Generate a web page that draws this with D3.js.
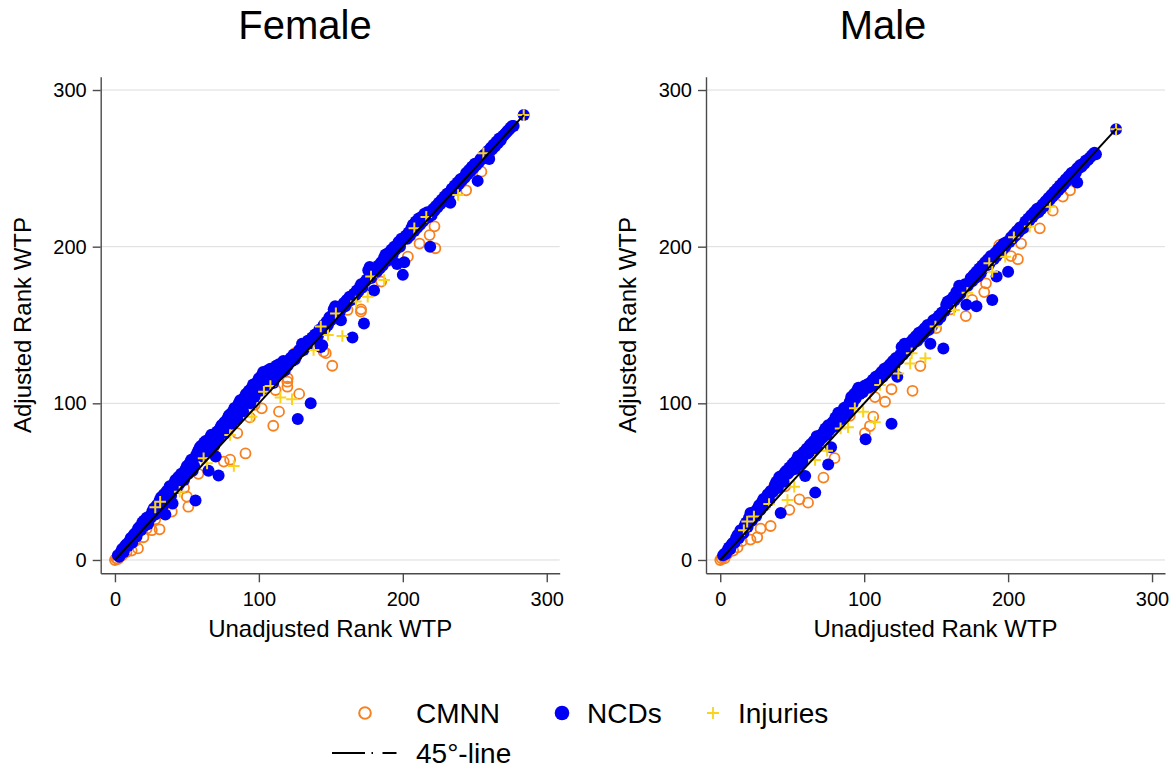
<!DOCTYPE html>
<html>
<head>
<meta charset="utf-8">
<script src="https://cdn.jsdelivr.net/npm/d3@7"></script>
<style>
  body { margin: 0; background: #fff; }
  svg { display: block; font-family: "Liberation Sans", Arial, sans-serif; }
</style>
</head>
<body>
<div id="chart"></div>
<script>
const panelTitles = ["Female", "Male"];
const tickValues = [0, 100, 200, 300];
const legendLabels = ["CMNN", "NCDs", "Injuries", "45°-line"];

// [unadjusted rank, adjusted rank]
const femaleCMNN = [
  [0,0],[1,1],[2,0.5],[3,2],[5,3],[8,5],[11.6,6],[16,7.4],[14,12],[19.8,14.5],[22,20],[25.6,19],[28,26],[31,19.6],
  [36,41],[39.5,30.9],[42,50],[44,47],[48,46],[50,40.4],[51,34],[58,55],[64,68],[68,70],[75.6,62.8],[80,64],
  [85,81],[90.7,68],[93.7,91],[97,99],[102,96.8],[105,110],[110,85.7],[111.6,108.5],[114,94.7],[119.8,110.6],
  [119.8,113.8],[120,116],[125,132],[128,106],[133,137],[145,133],[146.5,132],[151,124],[161.6,159.6],
  [170.9,158.5],[171,160],[180,182],[185,177.7],[190,191],[198,200],[203.5,193.6],[211.6,202],[218.6,207.4],
  [222,213],[222.6,199],[230,233],[240,240.4],[244,236],[248,249],[254.6,247.9],[260,258],[262,264]
];
const femaleNCDs = [
  [2,3],[4,5],[5,7],[7,9],[8,10],[10,12],[11,14],[13,16],[14,17],[16,20],[17,21],[19,24],[20,25],[22,27],
  [24,28],[26,31],[27,33],[29,35],[31,38],[32,40],[34,42],[35,29],[36,44],[38,47],[40,36],[41,49],[42,51],
  [44,53],[46,55],[47,52],[49,58],[50,60],[52,62],[53,64],[56,38],[56,66],[57,68],[58,70],[59,72],[60,73],
  [62,75],[63,76],[64,74],[65,57],[66,78],[67,80],[68,77],[70,66],[71,82],[72,54],[73,84],[74,86],[75,85],
  [76,88],[78,90],[79,92],[80,93],[82,95],[83,97],[84,96],[86,100],[87,102],[88,99],[90,104],[91,106],
  [92,103],[93,108],[95,110],[96,112],[98,111],[99,114],[100,116],[102,118],[103,120],[105,119],[106,121],
  [108,122],[109,121],[111,118],[112,124],[114,125],[115,123],[117,127],[119,126],[120,124],[122,129],
  [124,131],[126,130],[127,90],[128,134],[130,138],[132,136],[134,140],[136,100],[137,142],[139,144],
  [141,143],[143,136],[144,137],[145,150],[147,152],[149,155],[150,153],[152,160],[153,162],[155,161],
  [157,153],[159,164],[161,166],[163,168],[165,142],[166,170],[168,172],[170,174],[171,176],[173,151],
  [174,178],[176,185],[177,187],[179,183],[180,172],[181,186],[183,188],[185,190],[187,193],[188,195],
  [190,196],[192,198],[194,200],[196,189],[197,203],[199,205],[200,182],[201,190],[202,207],[204,209],
  [206,212],[207,214],[209,216],[211,218],[213,219],[215,221],[217,222],[219,200],[220,220],[221,224],
  [223,226],[225,228],[227,230],[229,232],[231,234],[233,228],[234,237],[236,239],[238,241],[240,243],
  [242,244],[244,247],[246,249],[248,251],[250,253],[252,242],[254,256],[256,258],[257,259],[259,261],
  [260,256],[261,263],[263,265],[265,267],[267,269],[269,270],[270,271],[272,273],[274,275],[276,277],
  [284,284],
  // points lying close to the diagonal
  [3,2],[6,5],[9,9],[12,11],[15,15],[18,19],[21,22],[23,23],[25,27],[28,29],[30,31],[33,34],[37,39],[39,41],
  [43,46],[45,49],[48,51],[51,55],[54,57],[55,60],[61,66],[64,69],[69,73],[72,77],[77,81],[81,87],[85,90],
  [89,95],[94,100],[97,104],[101,108],[104,110],[107,114],[110,113],[113,118],[116,120],[118,121],[121,126],
  [123,127],[125,128],[129,133],[131,134],[133,137],[135,138],[138,140],[140,141],[142,147],[146,148],
  [148,150],[151,156],[154,157],[156,158],[158,161],[160,162],[162,165],[164,166],[167,169],[169,171],
  [172,174],[175,179],[178,180],[182,184],[184,186],[186,188],[189,191],[191,193],[193,195],[195,198],
  [198,200],[203,205],[205,207],[208,210],[210,212],[212,214],[214,216],[216,218],[218,219],[222,223],
  [224,225],[226,227],[228,229],[230,231],[232,233],[235,236],[237,238],[239,240],[241,242],[243,244],
  [245,246],[247,248],[249,250],[251,252],[253,254],[255,256],[258,258],[262,262],[264,264],[266,266],
  [268,268],[271,272],[273,274],[275,276],[277,277]
];
const femaleInjuries = [
  [28,33.6],[31.4,37.2],[45,43.6],[61.6,64.9],[64,61.7],[80,79.8],[82.6,60],[95,91.5],[103.5,107.4],
  [108,111],[115,103.8],[123,102.6],[138,134],[143,149],[148,143.6],[153.5,157.4],[158,143],[167.4,165],
  [175.6,168],[177.9,180.9],[187,178.7],[208,211.7],[216.3,219],[238.4,233],[256,259.6],[284,284]
];

const maleCMNN = [
  [0,0],[1,1],[2,2],[3,1],[5,4],[9,6],[12,8],[15,12],[21,13],[25.7,14.5],[28,20],[35,21.7],[37.4,46.8],
  [45,47],[48,32],[55,38.7],[61,36.6],[71.7,52.6],[79.4,65],[90,92],[100.5,81],[104,85.5],[106.3,91.5],
  [107.5,104],[114.5,101],[119,109],[133.6,108],[139,123.8],[150,148],[160,160],[170.6,155.7],[175,166],
  [183.4,171],[184.6,176.6],[193.9,201],[196,198],[202,194],[206.8,192],[209,202],[222,211.7],[231,223],
  [238,232],[243,236],[250,251]
];
const maleNCDs = [
  [3,4],[5,6],[6,8],[8,10],[9,11],[11,14],[12,16],[14,19],[15,18],[17,22],[18,24],[20,27],[21,30],[23,29],
  [24,31],[26,33],[27,35],[29,37],[30,39],[32,40],[33,42],[35,44],[36,43],[38,48],[39,50],[41,53],[42,30],
  [43,54],[45,56],[46,57],[48,59],[50,61],[51,62],[53,64],[54,66],[56,67],[58,69],[59,53.6],[60,71],[62,73],
  [63,74],[65,76],[66,43],[67,79],[68,77],[70,80],[72,82],[73,84],[75,61],[75,86],[77,72],[78,88],[80,91],
  [82,94],[83,92],[85,95],[86,97],[88,98],[90,101],[91,104],[93,106],[95,108],[96,110],[98,109],[100,111],
  [101,77],[102,112],[104,113],[106,115],[108,117],[110,118],[112,120],[114,122],[116,123],[118,125],
  [119,87],[120,127],[122,129],[123,117],[125,131],[126,136],[128,138],[130,137],[132,139],[134,141],
  [136,143],[138,145],[140,146],[142,148],[144,150],[146,138],[148,153],[150,154],[152,156],[154,158],
  [155,135],[157,163],[158,165],[160,166],[162,168],[164,171],[166,175],[168,174],[170,176],[171,163],
  [174,180],[176,182],[178,184],[178,162],[180,186],[182,188],[184,190],[186,192],[188,194],[189,166],
  [191,196],[193,198],[192,181],[195,200],[197,202],[199,203],[200,184],[202,206],[204,208],[206,210],
  [208,212],[210,213],[212,216],[214,218],[216,220],[218,222],[220,224],[222,225],[224,227],[226,229],
  [228,231],[230,233],[232,235],[234,237],[236,239],[238,241],[240,243],[242,245],[244,247],[246,248],
  [248,250],[248,241],[250,252],[252,253],[254,255],[256,256],[257,257],[259,259],[275,275],
  // points lying close to the diagonal
  [2,3],[4,4],[7,7],[10,11],[13,14],[16,17],[19,21],[22,25],[25,28],[28,32],[31,35],[34,38],[37,44],[40,46],
  [44,50],[47,55],[49,57],[52,58],[55,61],[57,63],[61,68],[64,70],[67,72],[69,76],[71,78],[74,80],[76,83],
  [79,85],[81,88],[84,90],[87,93],[89,95],[92,100],[94,103],[97,106],[99,107],[103,110],[105,111],[107,113],
  [109,116],[111,116],[113,117],[115,119],[117,121],[119,123],[121,124],[124,128],[127,131],[129,133],
  [131,135],[133,137],[135,139],[137,140],[139,142],[141,144],[143,146],[145,147],[147,149],[149,152],
  [151,153],[153,155],[156,159],[159,162],[161,164],[163,166],[165,168],[167,170],[169,173],[172,175],
  [173,177],[175,178],[177,180],[179,181],[181,183],[183,186],[185,188],[187,189],[190,192],[192,194],
  [194,196],[196,198],[198,200],[201,203],[203,205],[205,207],[207,209],[209,211],[211,212],[213,215],
  [215,217],[217,219],[219,221],[221,222],[223,224],[225,226],[227,228],[229,230],[231,232],[233,234],
  [235,236],[237,238],[239,240],[241,242],[243,244],[245,246],[247,247],[249,250],[251,251],[253,253],
  [255,255],[258,258],[260,260],[261,259]
];
const maleInjuries = [
  [16.4,19],[18.7,24.5],[23.4,27.7],[33.9,35.7],[46.7,38.3],[51.4,46.8],[65.9,63.8],[74.3,69.8],[83.6,84],
  [88.8,84.7],[93.5,96.8],[99.3,94.7],[107.5,88],[111,111.7],[123.8,119],[132,125.5],[133,132],
  [142.5,128.7],[149.5,149],[162.4,159.6],[171.7,170.6],[186.9,189.4],[189,184],[198,193.6],[204,206],
  [215,212.8],[229,225.5],[275,275]
];

const colors = { cmnn: "#f7801f", ncd: "#0000f5", inj: "#f9d31c" };
const width = 1176;
const height = 771;

const svg = d3.select("#chart")
  .append("svg")
  .attr("width", width)
  .attr("height", height);

function plusPath(s) {
  return `M${-s},0H${s}M0,${-s}V${s}`;
}

function drawPanel(left, titleX, title, cmnn, ncds, injuries) {
  const x = d3.scaleLinear().domain([-9.9, 309]).range([left, left + 459]);
  const y = d3.scaleLinear().domain([-8.5, 308.5]).range([573.3, 76.7]);
  const g = svg.append("g");

  // gridlines
  g.selectAll("line.grid")
    .data(tickValues)
    .enter()
    .append("line")
    .attr("class", "grid")
    .attr("x1", left)
    .attr("x2", left + 459)
    .attr("y1", d => y(d))
    .attr("y2", d => y(d))
    .attr("stroke", "#dcdcdc")
    .attr("stroke-width", 1);

  const yAxis = g.append("g")
    .attr("transform", `translate(${left},0)`)
    .call(d3.axisLeft(y).tickValues(tickValues).tickSize(8).tickSizeOuter(0).tickPadding(6));
  const xAxis = g.append("g")
    .attr("transform", `translate(0,${y.range()[0]})`)
    .call(d3.axisBottom(x).tickValues(tickValues).tickSize(9).tickSizeOuter(0).tickPadding(10));

  [yAxis, xAxis].forEach(ax => {
    ax.select(".domain").attr("stroke", "#4a4a4a").attr("stroke-width", 1.4);
    ax.selectAll(".tick line").attr("stroke", "#4a4a4a").attr("stroke-width", 1.4);
    ax.selectAll(".tick text")
      .attr("fill", "#000")
      .style("font-size", "20px")
      .style("font-family", '"Liberation Sans", Arial, sans-serif');
  });

  g.append("text")
    .attr("x", (x.range()[0] + x.range()[1]) / 2)
    .attr("y", 637)
    .attr("text-anchor", "middle")
    .style("font-size", "24px")
    .text("Unadjusted Rank WTP");

  const cy = (y.range()[0] + y.range()[1]) / 2;
  g.append("text")
    .attr("transform", `translate(${left - 70},${cy}) rotate(-90)`)
    .attr("text-anchor", "middle")
    .style("font-size", "24px")
    .text("Adjusted Rank WTP");

  g.append("text")
    .attr("x", titleX)
    .attr("y", 39)
    .attr("text-anchor", "middle")
    .style("font-size", "40px")
    .text(title);

  g.append("g")
    .selectAll("circle")
    .data(cmnn)
    .enter()
    .append("circle")
    .attr("cx", d => x(d[0]))
    .attr("cy", d => y(d[1]))
    .attr("r", 5)
    .attr("fill", "none")
    .attr("stroke", colors.cmnn)
    .attr("stroke-width", 1.8);

  g.append("g")
    .selectAll("circle")
    .data(ncds)
    .enter()
    .append("circle")
    .attr("cx", d => x(d[0]))
    .attr("cy", d => y(d[1]))
    .attr("r", 6)
    .attr("fill", colors.ncd);

  g.append("g")
    .selectAll("path")
    .data(injuries)
    .enter()
    .append("path")
    .attr("transform", d => `translate(${x(d[0])},${y(d[1])})`)
    .attr("d", plusPath(5.8))
    .attr("stroke", colors.inj)
    .attr("stroke-width", 2)
    .attr("fill", "none");

  const maxRank = d3.max(ncds.concat(cmnn, injuries), d => d[0]);
  const line = d3.line().x(d => x(d)).y(d => y(d));
  g.append("path")
    .datum([0, maxRank])
    .attr("d", line)
    .attr("stroke", "#000")
    .attr("stroke-width", 2)
    .attr("fill", "none");
}

drawPanel(100.7, 305, panelTitles[0], femaleCMNN, femaleNCDs, femaleInjuries);
drawPanel(706, 883, panelTitles[1], maleCMNN, maleNCDs, maleInjuries);

// legend
const legend = svg.append("g").style("font-size", "28px");
legend.append("circle").attr("cx", 365).attr("cy", 713).attr("r", 5.8)
  .attr("fill", "none").attr("stroke", colors.cmnn).attr("stroke-width", 2);
legend.append("text").attr("x", 416).attr("y", 723).text(legendLabels[0]);
legend.append("circle").attr("cx", 562).attr("cy", 713).attr("r", 7.3).attr("fill", colors.ncd);
legend.append("text").attr("x", 587).attr("y", 723).text(legendLabels[1]);
legend.append("path").attr("transform", "translate(713,713)").attr("d", plusPath(6))
  .attr("stroke", colors.inj).attr("stroke-width", 1.8);
legend.append("text").attr("x", 738).attr("y", 723).text(legendLabels[2]);
legend.append("line").attr("x1", 332).attr("x2", 398).attr("y1", 753).attr("y2", 753)
  .attr("stroke", "#000").attr("stroke-width", 2.2)
  .attr("stroke-dasharray", "33,6.5,1.5,9.5,14");
legend.append("text").attr("x", 416).attr("y", 763).text(legendLabels[3]);
</script>
</body>
</html>
